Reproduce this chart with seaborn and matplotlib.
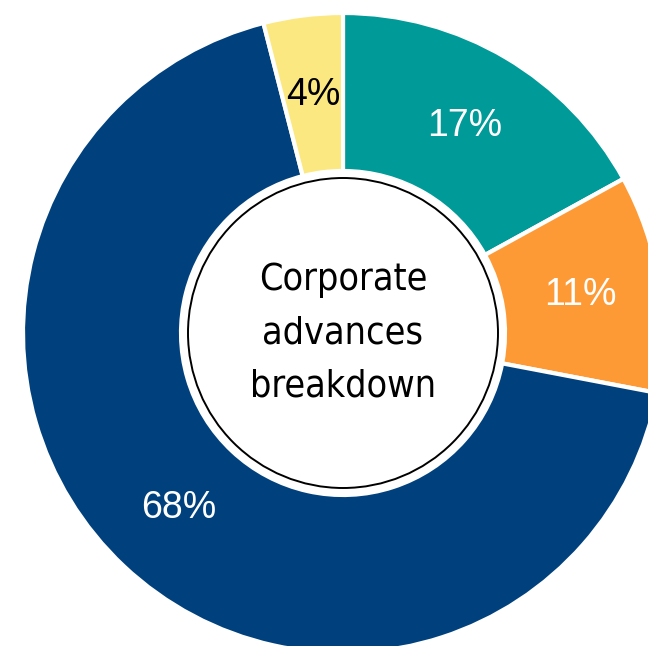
import matplotlib
matplotlib.use('Agg')
import matplotlib.pyplot as plt
import seaborn as sns

# slices, clockwise from 12 o'clock
segments = ['Segment A', 'Segment B', 'Segment C', 'Segment D']
shares = [17, 11, 68, 4]
colors = ['#009A98', '#FE9A36', '#00417D', '#FCE881']
text_colors = ['white', 'white', 'white', 'black']
center_title = 'Corporate\nadvances\nbreakdown'

sns.set_theme(style='white')
plt.rcParams['font.family'] = ['Liberation Sans', 'DejaVu Sans']

W, H = 648, 646
fig = plt.figure(figsize=(W / 100, H / 100), dpi=100)
ax = fig.add_axes([0, 0, 1, 1])

cx, cy = 343, H - 333
r_out, r_in = 320, 162

wedges, _, pcts = ax.pie(
    shares, colors=sns.color_palette(colors), startangle=90, counterclock=False,
    radius=r_out, center=(cx, cy), autopct=lambda p: f'{round(p)}%',
    pctdistance=0.75,
    wedgeprops=dict(width=r_out - r_in, edgecolor='white', linewidth=3),
    textprops=dict(fontsize=27, family=['Liberation Sans', 'DejaVu Sans']),
)
for t, c in zip(pcts, text_colors):
    t.set_color(c)

hole = plt.Circle((cx, cy), 155, facecolor='white', edgecolor='black', linewidth=1.4, zorder=5)
ax.add_patch(hole)
ax.text(cx, cy, center_title, ha='center', va='center', fontsize=27, color='black',
        family=['DejaVu Sans'], fontstretch='condensed', linespacing=1.62, zorder=6)

ax.set_xlim(0, W)
ax.set_ylim(0, H)
ax.set_aspect('equal')
ax.axis('off')

fig.savefig('out.png', dpi=100)
